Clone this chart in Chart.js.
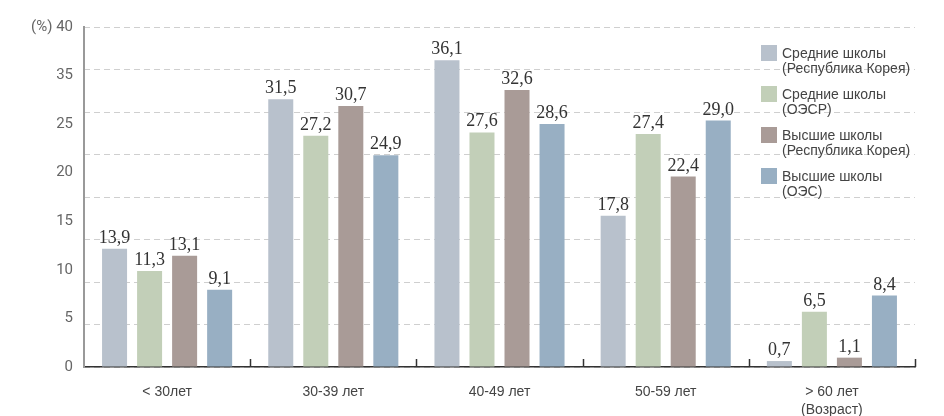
<!DOCTYPE html>
<html>
<head>
<meta charset="utf-8">
<script src="https://cdn.jsdelivr.net/npm/chart.js@4"></script>
<style>
  body { margin: 0; background: #fff; }
  #wrap { position: relative; width: 944px; height: 416px; }
  #legend { position: absolute; left: 761px; top: 45px; font-family: "Liberation Sans", Arial, sans-serif; font-size: 14px; color: #444; }
  .item { position: relative; height: 41px; }
  .box { position: absolute; left: 0; top: 0; width: 16px; height: 16px; }
  .txt { position: absolute; left: 21px; top: 1px; line-height: 15px; white-space: nowrap; }
</style>
</head>
<body>
<div id="wrap">
  <canvas id="chart" width="944" height="416"></canvas>
  <div id="legend"></div>
</div>
<script>
const categories = ['< 30лет', '30-39 лет', '40-49 лет', '50-59 лет', ['> 60 лет', '(Возраст)']];
const seriesNames = [
  ['Средние школы', '(Республика Корея)'],
  ['Средние школы', '(ОЭСР)'],
  ['Высшие школы', '(Республика Корея)'],
  ['Высшие школы', '(ОЭС)']
];
const middleKorea = [13.9, 31.5, 36.1, 17.8, 0.7];
const middleOecd = [11.3, 27.2, 27.6, 27.4, 6.5];
const highKorea = [13.1, 30.7, 32.6, 22.4, 1.1];
const highOecd = [9.1, 24.9, 28.6, 29.0, 8.4];
// the y labels in the original are spaced evenly, 30 is missing
const yTickLabels = ['0', '5', '10', '15', '20', '25', '35', '(%) 40'];
const colors = ['#b8c1cc', '#c2cfb8', '#a99b97', '#98afc3'];

const allValues = [middleKorea, middleOecd, highKorea, highOecd];

// value labels above the bars
const valueLabels = {
  id: 'valueLabels',
  afterDatasetsDraw(chart) {
    const ctx = chart.ctx;
    ctx.save();
    ctx.font = '18px "Liberation Serif", "Times New Roman", serif';
    ctx.fillStyle = '#333';
    ctx.textAlign = 'center';
    ctx.textBaseline = 'alphabetic';
    chart.data.datasets.forEach((ds, i) => {
      chart.getDatasetMeta(i).data.forEach((bar, j) => {
        ctx.fillText(ds.data[j].toFixed(1).replace('.', ','), bar.x, bar.y - 6);
      });
    });
    ctx.restore();
  }
};

// small marks between groups on the x axis
const groupTicks = {
  id: 'groupTicks',
  afterDraw(chart) {
    const ctx = chart.ctx;
    const x = chart.scales.x;
    const bottom = chart.chartArea.bottom;
    ctx.save();
    ctx.strokeStyle = '#333';
    ctx.lineWidth = 1.5;
    const xs = [];
    for (let i = 0; i < categories.length - 1; i++) {
      xs.push((x.getPixelForValue(i) + x.getPixelForValue(i + 1)) / 2);
    }
    xs.push(x.right);
    xs.forEach(px => {
      ctx.beginPath();
      ctx.moveTo(Math.round(px) + 0.5, bottom);
      ctx.lineTo(Math.round(px) + 0.5, bottom - 8);
      ctx.stroke();
    });
    ctx.restore();
  }
};

const chart = new Chart(document.getElementById('chart'), {
  type: 'bar',
  data: {
    labels: categories,
    datasets: allValues.map((vals, i) => ({
      label: seriesNames[i].join(' '),
      data: vals,
      backgroundColor: colors[i],
      categoryPercentage: 0.843,
      barPercentage: 0.714,
      yAxisID: 'y'
    }))
  },
  options: {
    responsive: false,
    animation: false,
    layout: { padding: { top: 27, right: 29, bottom: 0, left: 0 } },
    plugins: {
      legend: { display: false },
      tooltip: { enabled: false }
    },
    scales: {
      x: {
        grid: { display: false },
        border: { display: true, color: '#333', width: 1.5 },
        ticks: {
          color: '#444',
          padding: 8,
          font: { family: '"Liberation Sans", Arial, sans-serif', size: 14, lineHeight: 1.3 }
        },
        afterFit(scale) { scale.height = 49; }
      },
      y: {
        position: 'left',
        min: 0, max: 40,
        ticks: { display: false, stepSize: 5 },
        grid: { color: '#cfcfcf', drawTicks: false, lineWidth: 1, borderDash: [6, 4] },
        border: { display: true, width: 0, dash: [6, 4] },
        afterFit(scale) { scale.width = 0; }
      },
      y2: {
        position: 'left',
        min: 0, max: yTickLabels.length - 1,
        grid: { display: false, drawTicks: false },
        border: { display: true, color: '#999', width: 2 },
        ticks: {
          stepSize: 1,
          padding: 11,
          color: '#666',
          font: { family: 'Roboto, sans-serif', size: 15 },
          callback: (v) => yTickLabels[v]
        },
        afterFit(scale) { scale.width = 84; }
      }
    }
  },
  plugins: [valueLabels, groupTicks]
});

// legend built from the datasets
const legend = document.getElementById('legend');
chart.data.datasets.forEach((ds, i) => {
  const item = document.createElement('div');
  item.className = 'item';
  item.innerHTML = '<div class="box" style="background:' + ds.backgroundColor + '"></div>' +
    '<div class="txt">' + seriesNames[i].join('<br>') + '</div>';
  legend.appendChild(item);
});
</script>
</body>
</html>
